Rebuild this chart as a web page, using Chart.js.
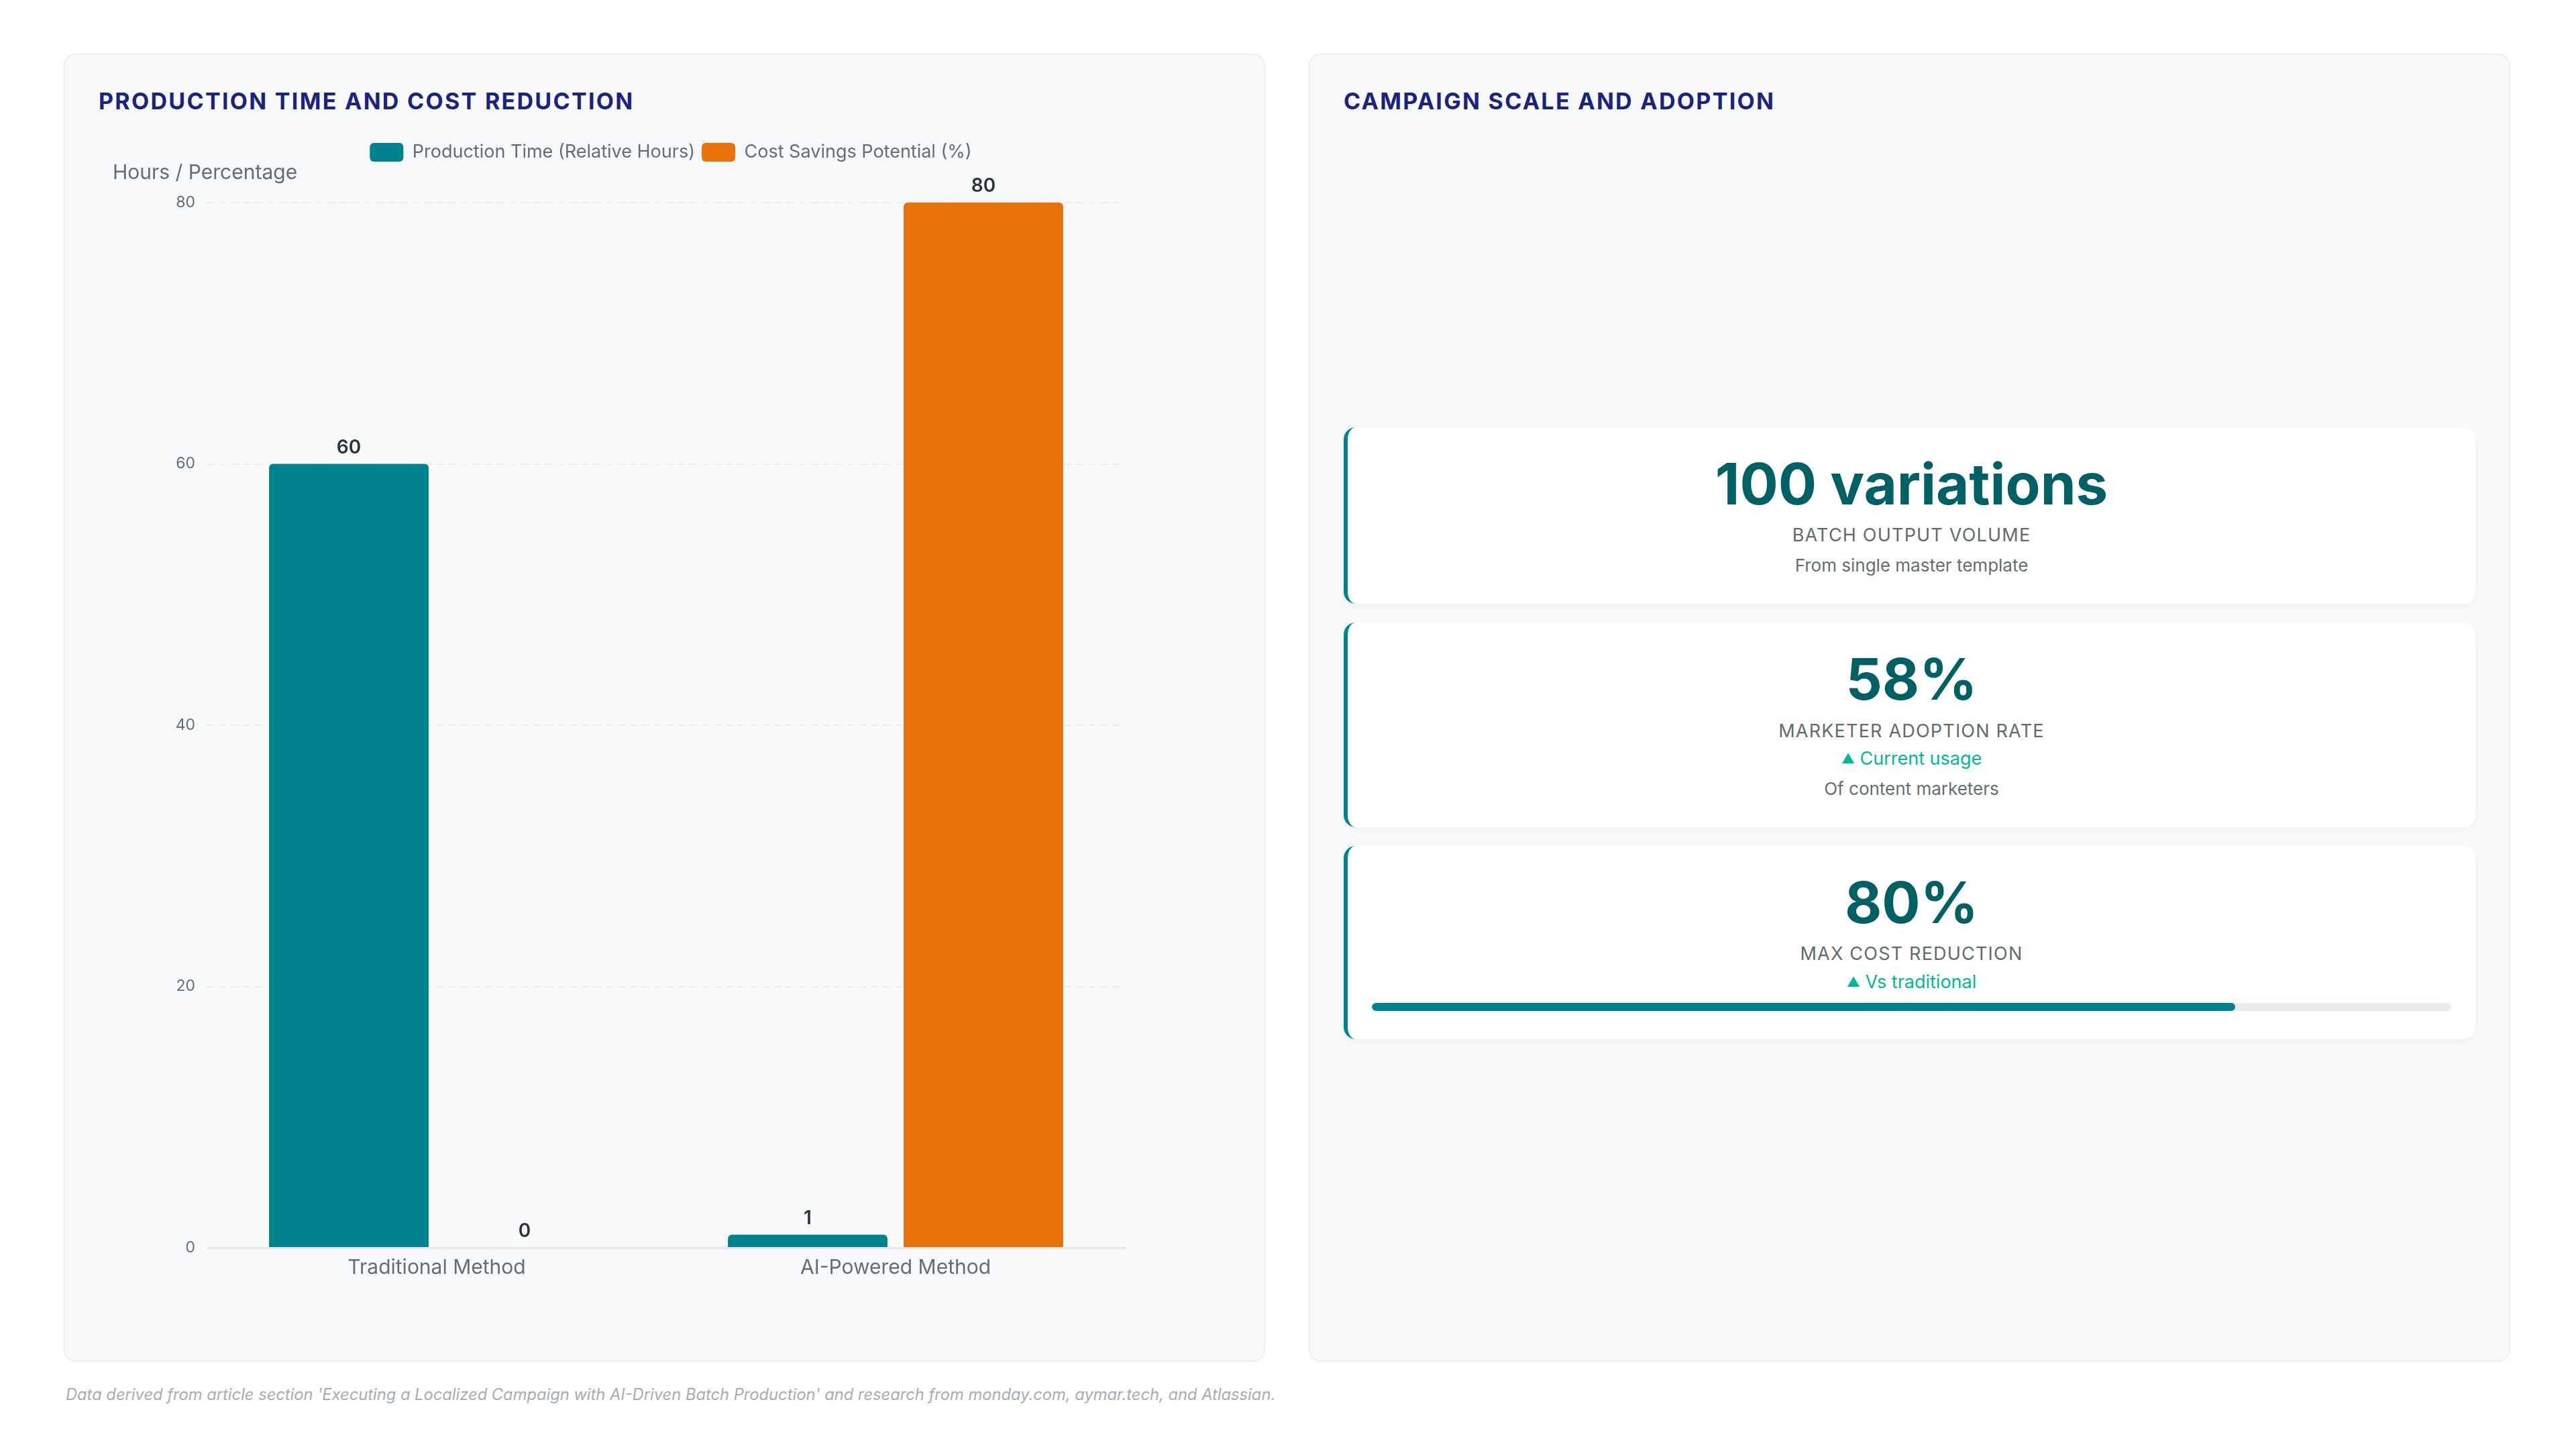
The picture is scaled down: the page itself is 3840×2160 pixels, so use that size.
<!DOCTYPE html>
<html>
<head>
<meta charset="utf-8">
<title>Production Time and Cost Reduction</title>
<script src="https://cdn.jsdelivr.net/npm/chart.js@4.4.1/dist/chart.umd.min.js"></script>
<style>
    html, body { margin: 0; padding: 0; background: #ffffff; font-family: Inter, "Noto Sans", sans-serif; }
    body { width: 3840px; height: 2160px; position: relative; overflow: hidden; }

    .grid { position: absolute; left: 95px; top: 80px; width: 3647px; height: 1950px;
            display: grid; grid-template-columns: 1791px 1791px; column-gap: 65px; }
    .panel { position: relative; box-sizing: border-box; background: #f8f9fb; border: 2px solid #eceef1;
             border-radius: 18px; padding: 48px 50px; display: flex; flex-direction: column;
             box-shadow: 0 1px 3px rgba(0,0,0,0.03); }
    .panel h2 { margin: 0; font-size: 34px; line-height: 41px; font-weight: 700; letter-spacing: 2.3px; color: #1a237e; }

    .chart-box { position: absolute; left: 71px; top: 121px; width: 1664px; height: 1717px; }

    .cards { flex: 1; display: flex; flex-direction: column; justify-content: center; gap: 28px; margin-top: 35px; }
    .card { background: #ffffff; border-left: 6px solid #00838f; border-radius: 18px; padding: 38px 36px 42px 36px;
            text-align: center; box-shadow: 0 4px 14px rgba(0,0,0,0.04); }
    .card .value { font-size: 85px; line-height: 1.1; font-weight: 700; color: #006064; }
    .card .label { margin-top: 12px; font-size: 27px; line-height: 1.3; letter-spacing: 1.2px; color: #5f6b6d; }
    .card .trend { margin-top: 7px; font-size: 27px; line-height: 1.25; color: #00b894; }
    .card .trend span { font-size: 20px; vertical-align: 2px; }
    .card .sub { margin-top: 12px; font-size: 26px; line-height: 1.2; color: #636e72; }
    .card .bar { margin-top: 15px; height: 12px; border-radius: 6px; background: #e9ecef; overflow: hidden; }
    .card .bar div { height: 100%; border-radius: 6px; background: #00838f; }

    .note { position: absolute; left: 98px; top: 2065px; font-size: 23.7px; line-height: 1.2; font-style: italic; color: #a4adb5; }
</style>
</head>
<body>
<div class="grid">
    <div class="panel">
        <h2>PRODUCTION TIME AND COST REDUCTION</h2>
        <div class="chart-box"><canvas id="chartCanvas"></canvas></div>
    </div>
    <div class="panel">
        <h2>CAMPAIGN SCALE AND ADOPTION</h2>
        <div class="cards">
            <div class="card">
                <div class="value">100 variations</div>
                <div class="label">BATCH OUTPUT VOLUME</div>
                <div class="sub">From single master template</div>
            </div>
            <div class="card">
                <div class="value">58%</div>
                <div class="label">MARKETER ADOPTION RATE</div>
                <div class="trend"><span>▲</span> Current usage</div>
                <div class="sub">Of content marketers</div>
            </div>
            <div class="card">
                <div class="value">80%</div>
                <div class="label">MAX COST REDUCTION</div>
                <div class="trend"><span>▲</span> Vs traditional</div>
                <div class="bar"><div id="costBar"></div></div>
            </div>
        </div>
    </div>
</div>
<div class="note">Data derived from article section 'Executing a Localized Campaign with AI-Driven Batch Production' and research from monday.com, aymar.tech, and Atlassian.</div>

<script>
const categories = ['Traditional Method', 'AI-Powered Method'];
const productionTime = [60, 1];
const costSavings = [0, 80];
const yTicks = [0, 20, 40, 60, 80];
const maxCostReduction = 80;

document.getElementById('costBar').style.width = maxCostReduction + '%';

const tealColor = '#00838f';
const orangeColor = '#e8710a';
const greyText = '#636e72';

// numbers above each bar
const barValueLabels = {
    id: 'barValueLabels',
    afterDatasetsDraw(chart) {
        const ctx = chart.ctx;
        ctx.save();
        ctx.font = '600 28px Inter';
        ctx.fillStyle = '#2d3436';
        ctx.textAlign = 'center';
        ctx.textBaseline = 'alphabetic';
        chart.data.datasets.forEach((ds, i) => {
            chart.getDatasetMeta(i).data.forEach((bar, j) => {
                ctx.fillText(String(ds.data[j]), bar.x, bar.y - 16);
            });
        });
        ctx.restore();
    }
};

const ctx = document.getElementById('chartCanvas').getContext('2d');
new Chart(ctx, {
    type: 'bar',
    data: {
        labels: categories,
        datasets: [{
            label: 'Production Time (Relative Hours)',
            data: productionTime,
            backgroundColor: tealColor,
            borderWidth: 0,
            borderRadius: 6,
            barPercentage: 0.908,
            categoryPercentage: 0.766
        }, {
            label: 'Cost Savings Potential (%)',
            data: costSavings,
            backgroundColor: orangeColor,
            borderWidth: 0,
            borderRadius: 6,
            barPercentage: 0.908,
            categoryPercentage: 0.766
        }]
    },
    options: {
        responsive: true,
        maintainAspectRatio: false,
        animation: false,
        layout: { padding: 0 },
        plugins: {
            legend: {
                display: true,
                position: 'top',
                labels: {
                    boxWidth: 50,
                    boxHeight: 28,
                    useBorderRadius: true,
                    borderRadius: 6,
                    padding: 10,
                    color: greyText,
                    font: { family: 'Inter', size: 27 }
                }
            },
            title: {
                display: true,
                text: 'Hours / Percentage',
                align: 'start',
                weight: 500,
                color: greyText,
                font: { family: 'Inter', size: 30, weight: 'normal', lineHeight: '12px' },
                padding: { top: 1, bottom: 38 }
            },
            tooltip: { enabled: false }
        },
        scales: {
            x: {
                grid: { display: false, drawTicks: false },
                border: { display: true, color: '#e6e9ec', width: 3 },
                ticks: { color: greyText, padding: 12, font: { family: 'Inter', size: 30 } }
            },
            y: {
                min: 0,
                max: yTicks[yTicks.length - 1],
                afterBuildTicks: (scale) => { scale.ticks = yTicks.map(v => ({ value: v })); },
                afterFit: (scale) => { scale.width = 141; },
                grid: { color: '#e9ecef', lineWidth: 2, drawTicks: false },
                border: { display: false, dash: [10, 8] },
                ticks: { color: greyText, padding: 18, font: { family: 'Inter', size: 23 } }
            },
            yPad: {
                type: 'linear',
                position: 'right',
                grid: { display: false, drawTicks: false },
                border: { display: false },
                ticks: { display: false },
                afterFit: (scale) => { scale.width = 155; }
            }
        }
    },
    plugins: [barValueLabels]
});
</script>
</body>
</html>
